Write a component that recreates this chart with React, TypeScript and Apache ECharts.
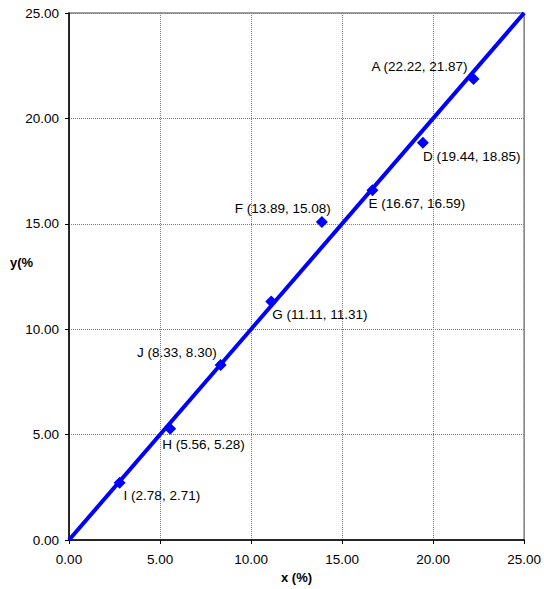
import React, { useEffect, useRef } from "react";
import * as echarts from "echarts";

const pointNames = ["A", "D", "E", "F", "G", "J", "H", "I"];
const pointX = [22.22, 19.44, 16.67, 13.89, 11.11, 8.33, 5.56, 2.78];
const pointY = [21.87, 18.85, 16.59, 15.08, 11.31, 8.3, 5.28, 2.71];
const lineX = [0, 25];
const lineY = [0, 25];
const xTicks = [0, 5, 10, 15, 20, 25];
const yTicks = [0, 5, 10, 15, 20, 25];

// label placement styling (not data)
const labelAlign = ["right", "left", "left", "right", "left", "right", "left", "left"];
const labelOffset = [
  [-6, -12],
  [0, 14],
  [-4, 13],
  [9, -14],
  [1, 13],
  [-4, -13],
  [-8, 16],
  [4, 13],
];

const FONT = "Liberation Sans, Arial, sans-serif";

export default function App() {
  const ref = useRef<HTMLDivElement>(null);
  useEffect(() => {
    const chart = echarts.init(ref.current!, undefined, { renderer: "svg" });
    const scatterData = pointX.map((x, i) => ({
      value: [x, pointY[i]],
      label: {
        show: true,
        position: "inside",
        align: labelAlign[i],
        verticalAlign: "middle",
        offset: labelOffset[i],
        formatter: `${pointNames[i]} (${pointX[i].toFixed(2)}, ${pointY[i].toFixed(2)})`,
        color: "#000",
        textBorderWidth: 0,
        textBorderColor: "transparent",
        fontSize: 13.5,
        fontFamily: FONT,
      },
    }));
    chart.setOption({
      animation: false,
      backgroundColor: "#fff",
      grid: {
        left: 69,
        right: 17,
        top: 13,
        bottom: 46,
        show: true,
        borderColor: "#808080",
        borderWidth: 1.5,
      },
      xAxis: {
        type: "value",
        min: xTicks[0],
        max: xTicks[xTicks.length - 1],
        interval: 5,
        name: "x (%)",
        nameLocation: "middle",
        nameGap: 31,
        nameTextStyle: { fontWeight: "bold", fontSize: 13, fontFamily: FONT, color: "#000" },
        axisLine: { show: true, onZero: false, lineStyle: { color: "#000", width: 1.5 } },
        axisTick: { show: true, length: 4, lineStyle: { color: "#000" } },
        axisLabel: {
          margin: 12,
          fontSize: 13.5,
          fontFamily: FONT,
          color: "#000",
          formatter: (v: number) => v.toFixed(2),
        },
        splitLine: { show: true, lineStyle: { color: "#808080", type: "dotted", width: 1 } },
      },
      yAxis: {
        type: "value",
        min: yTicks[0],
        max: yTicks[yTicks.length - 1],
        interval: 5,
        axisLine: { show: true, onZero: false, lineStyle: { color: "#000", width: 1.5 } },
        axisTick: { show: true, length: 4, lineStyle: { color: "#000" } },
        axisLabel: {
          margin: 10,
          fontSize: 13.5,
          fontFamily: FONT,
          color: "#000",
          formatter: (v: number) => v.toFixed(2),
        },
        splitLine: { show: true, lineStyle: { color: "#808080", type: "dotted", width: 1 } },
      },
      graphic: [
        {
          type: "text",
          left: 10,
          top: 256,
          style: {
            text: "y(%",
            font: `bold 13px ${FONT}`,
            fill: "#000",
          },
        },
      ],
      series: [
        {
          type: "line",
          data: lineX.map((x, i) => [x, lineY[i]]),
          symbol: "none",
          lineStyle: { color: "#0000FF", width: 4 },
          z: 2,
        },
        {
          type: "scatter",
          data: scatterData,
          symbol: "diamond",
          symbolSize: 12,
          itemStyle: { color: "#0000FF", opacity: 1 },
          z: 3,
        },
      ],
    });
    return () => chart.dispose();
  }, []);
  return (
    <div
      ref={ref}
      style={{ position: "fixed", left: 0, top: 0, width: 544, height: 589 }}
    />
  );
}
